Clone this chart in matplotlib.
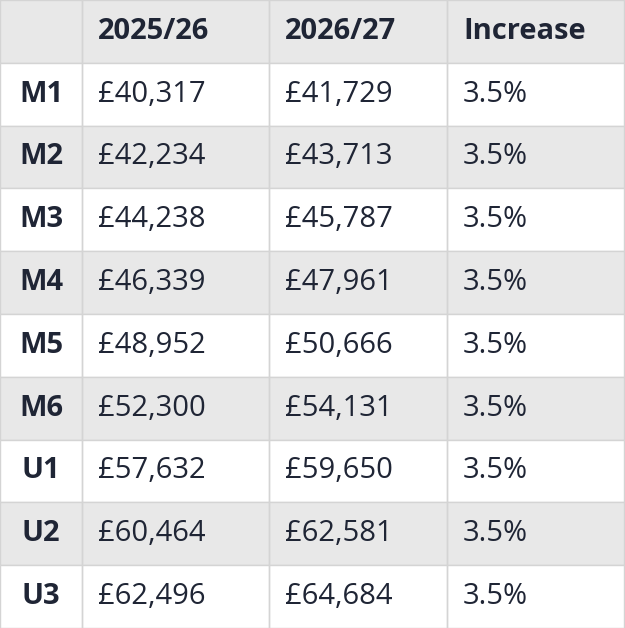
import matplotlib
matplotlib.use("Agg")
import matplotlib.pyplot as plt
from matplotlib.patches import Rectangle

headers = ["", "2025/26", "2026/27", "Increase"]
grades = ["M1", "M2", "M3", "M4", "M5", "M6", "U1", "U2", "U3"]
sal_2025 = ["£40,317", "£42,234", "£44,238", "£46,339", "£48,952", "£52,300", "£57,632", "£60,464", "£62,496"]
sal_2026 = ["£41,729", "£43,713", "£45,787", "£47,961", "£50,666", "£54,131", "£59,650", "£62,581", "£64,684"]
increase = ["3.5%"] * 9

W, H = 625, 628
fig = plt.figure(figsize=(W/100, H/100), dpi=100)
ax = fig.add_axes([0, 0, 1, 1])
ax.set_xlim(0, W); ax.set_ylim(H, 0); ax.axis("off")

colx = [0, 82, 269, 447, 624]
nrows = len(grades) + 1
rh = H / nrows
gray = "#e8e8e8"; line = "#d4d4d4"; txt = "#1f2535"
font = "Open Sans"

for r in range(nrows):
    y0 = r * rh
    bg = gray if (r == 0 or r % 2 == 0) else "white"
    ax.add_patch(Rectangle((0, y0), W, rh, facecolor=bg, edgecolor="none"))
    for c in range(4):
        ax.add_patch(Rectangle((colx[c], y0), colx[c+1]-colx[c], rh, facecolor="none", edgecolor=line, lw=1))
    if r == 0:
        row = headers
    else:
        i = r - 1
        row = [grades[i], sal_2025[i], sal_2026[i], increase[i]]
    for c, t in enumerate(row):
        if not t:
            continue
        bold = (r == 0 or c == 0)
        if c == 0:
            ax.text((colx[0]+colx[1])/2, y0 + rh/2, t, ha="center", va="center",
                    fontsize=21, fontweight="bold", color=txt, family=font)
        else:
            ax.text(colx[c] + 16, y0 + rh/2, t, ha="left", va="center",
                    fontsize=21, fontweight="bold" if bold else "normal", color=txt, family=font)

fig.savefig("out.png", dpi=100)
